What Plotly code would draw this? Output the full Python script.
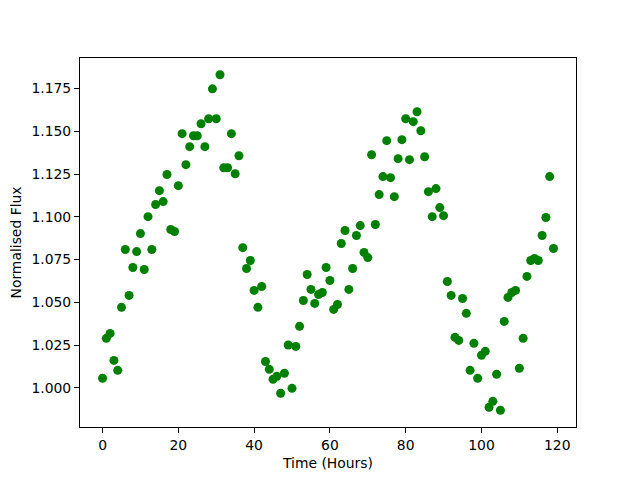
import plotly.graph_objects as go

hours = list(range(120))
flux = [
    1.0057, 1.0290, 1.0319, 1.0161, 1.0103, 1.0471, 1.0809, 1.0541, 1.0704, 1.0797,
    1.0902, 1.0692, 1.1001, 1.0809, 1.1072, 1.1153, 1.1089, 1.1247, 1.0926, 1.0914,
    1.1182, 1.1486, 1.1305, 1.1410, 1.1474, 1.1474, 1.1544, 1.1410, 1.1573, 1.1748,
    1.1573, 1.1830, 1.1287, 1.1287, 1.1486, 1.1252, 1.1357, 1.0820, 1.0698, 1.0745,
    1.0570, 1.0471, 1.0593, 1.0155, 1.0109, 1.0051, 1.0068, 0.9969, 1.0086, 1.0251,
    0.9998, 1.0243, 1.0360, 1.0511, 1.0663, 1.0576, 1.0494, 1.0546, 1.0558, 1.0704,
    1.0628, 1.0459, 1.0488, 1.0844, 1.0920, 1.0576, 1.0698, 1.0891, 1.0949, 1.0792,
    1.0762, 1.1363, 1.0955, 1.1130, 1.1235, 1.1445, 1.1229, 1.1118, 1.1340, 1.1451,
    1.1573, 1.1334, 1.1556, 1.1614, 1.1503, 1.1351, 1.1147, 1.1001, 1.1165, 1.1054,
    1.1007, 1.0622, 1.0541, 1.0296, 1.0278, 1.0523, 1.0436, 1.0103, 1.0261, 1.0057,
    1.0191, 1.0214, 0.9887, 0.9922, 1.0080, 0.9870, 1.0389, 1.0529, 1.0558, 1.0570,
    1.0115, 1.0290, 1.0652, 1.0745, 1.0757, 1.0745, 1.0891, 1.0996, 1.1235, 1.0815,
]
x_ticks = [0, 20, 40, 60, 80, 100, 120]
y_ticks = [1.000, 1.025, 1.050, 1.075, 1.100, 1.125, 1.150, 1.175]

xmin, xmax = min(hours), max(hours)
ymin, ymax = min(flux), max(flux)
xpad = 0.05 * (xmax - xmin)
ypad = 0.05 * (ymax - ymin)

fig = go.Figure()
fig.add_trace(go.Scatter(
    x=hours, y=flux, mode="markers",
    marker=dict(color="#008000", size=9, line=dict(width=0)),
    showlegend=False,
))

font = dict(family="DejaVu Sans", size=13.9, color="black")
axis_common = dict(
    showgrid=False, zeroline=False, showline=True, linecolor="black", linewidth=1.1,
    mirror=True, ticks="outside", ticklen=5, tickwidth=1.1, tickcolor="black",
    tickfont=font,
)
# the page body adds an 8px offset; margins compensate so the axes box sits
# at the same place as in the reference
fig.update_layout(
    width=640, height=480,
    margin=dict(l=72, r=72, t=50, b=61, autoexpand=False),
    paper_bgcolor="white", plot_bgcolor="white",
    font=font,
    xaxis=dict(range=[xmin - xpad, xmax + xpad], tickmode="array", tickvals=x_ticks,
               ticktext=[str(t) for t in x_ticks],
               title=dict(text="Time (Hours)", font=font, standoff=6), **axis_common),
    yaxis=dict(range=[ymin - ypad, ymax + ypad], tickmode="array", tickvals=y_ticks,
               ticktext=[f"{t:.3f}" for t in y_ticks],
               title=dict(text="Normalised Flux", font=font, standoff=8), **axis_common),
)
fig.write_html("out.html")
